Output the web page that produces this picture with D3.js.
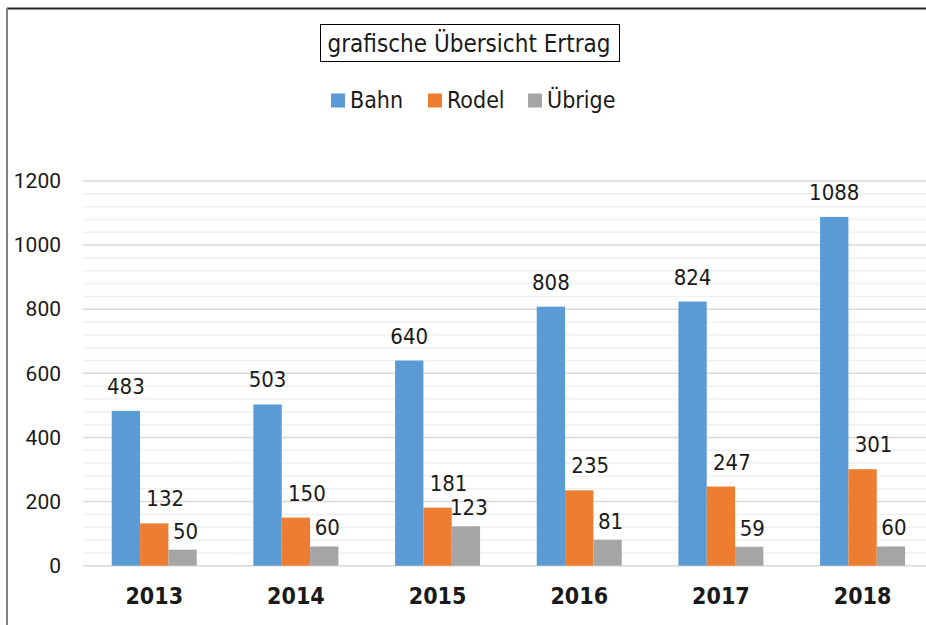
<!DOCTYPE html>
<html>
<head>
<meta charset="utf-8">
<script src="https://cdn.jsdelivr.net/npm/d3@7"></script>
<style>
  body { margin: 0; background: #fff; }
  svg text { font-family: "Liberation Sans Narrow", "DejaVu Sans Condensed", sans-serif; fill: #1a1a1a; }
</style>
</head>
<body>
<svg id="chart" width="926" height="625"></svg>
<script>
// data
const years = ["2013", "2014", "2015", "2016", "2017", "2018"];
const bahn = [483, 503, 640, 808, 824, 1088];
const rodel = [132, 150, 181, 235, 247, 301];
const uebrige = [50, 60, 123, 81, 59, 60];
const seriesNames = ["Bahn", "Rodel", "Übrige"];
const yTicks = [0, 200, 400, 600, 800, 1000, 1200];

const colors = ["#5b9bd5", "#ed7d31", "#a5a5a5"];
const series = [bahn, rodel, uebrige];

var svg = d3.select("#chart");

// outer frame (only top and left visible in the crop)
svg.append("line").attr("x1", 7).attr("x2", 926).attr("y1", 8.5).attr("y2", 8.5)
  .attr("stroke", "#262626").attr("stroke-width", 2);
svg.append("line").attr("x1", 7).attr("x2", 7).attr("y1", 8).attr("y2", 625)
  .attr("stroke", "#808080").attr("stroke-width", 2);

var x = d3.scaleBand().domain(years).range([83.4, 933.4])
  .paddingInner(0.4).paddingOuter(0.2);
var x1 = d3.scaleBand().domain(d3.range(3)).range([0, x.bandwidth()]);
var y = d3.scaleLinear().domain([0, 1200]).range([565.7, 181]);

// minor gridlines every 40, major every 200
var minor = d3.range(40, 1200, 40).filter(v => v % 200 != 0);
svg.append("g").selectAll("line").data(minor).join("line")
  .attr("x1", 83).attr("x2", 926)
  .attr("y1", d => y(d)).attr("y2", d => y(d))
  .attr("stroke", "#f0f0f0").attr("stroke-width", 1.5);
svg.append("g").selectAll("line").data(yTicks).join("line")
  .attr("x1", 83).attr("x2", 926)
  .attr("y1", d => y(d)).attr("y2", d => y(d))
  .attr("stroke", "#d9d9d9").attr("stroke-width", 1.5);

// y axis labels
var yAxis = d3.axisLeft(y).tickValues(yTicks).tickFormat(d3.format("d"))
  .tickSize(0).tickPadding(0);
var gy = svg.append("g").attr("transform", "translate(61,0)").call(yAxis);
gy.select(".domain").remove();
gy.selectAll("text")
  .style("font-family", "Roboto, sans-serif")
  .style("font-size", "21px")
  .attr("fill", "#1a1a1a");

// x axis labels
var xAxis = d3.axisBottom(x).tickSize(0).tickPadding(0);
var gx = svg.append("g").attr("transform", "translate(0,588)").call(xAxis);
gx.select(".domain").remove();
gx.selectAll("text")
  .style("font-size", "23px")
  .style("font-weight", "bold")
  .attr("fill", "#000");

// bars
var labelDx = [0, 11, 3];
var labelGap = [17, 17, 11];
series.forEach(function(vals, s) {
  var g = svg.append("g");
  g.selectAll("rect").data(vals).join("rect")
    .attr("x", (d, i) => x(years[i]) + x1(s))
    .attr("y", d => y(d))
    .attr("width", x1.bandwidth())
    .attr("height", d => y(0) - y(d))
    .attr("fill", colors[s]);
  g.selectAll("text").data(vals).join("text")
    .attr("x", (d, i) => x(years[i]) + x1(s) + x1.bandwidth() / 2 + labelDx[s])
    .attr("y", d => y(d) - labelGap[s])
    .attr("text-anchor", "middle")
    .style("font-size", "22px")
    .text(d => d);
});

// title box
svg.append("rect").attr("x", 320.5).attr("y", 24.5).attr("width", 299).attr("height", 37)
  .attr("fill", "#fff").attr("stroke", "#000").attr("stroke-width", 1);
svg.append("text").attr("x", 469).attr("y", 52).attr("text-anchor", "middle")
  .style("font-size", "24px").text("grafische Übersicht Ertrag");

// legend
var legX = [331, 428, 528];
var leg = svg.append("g");
seriesNames.forEach(function(name, i) {
  leg.append("rect").attr("x", legX[i]).attr("y", 93.5).attr("width", 14).attr("height", 14)
    .attr("fill", colors[i]);
  leg.append("text").attr("x", legX[i] + 19).attr("y", 107.5)
    .style("font-size", "23px").text(name);
});
</script>
</body>
</html>
